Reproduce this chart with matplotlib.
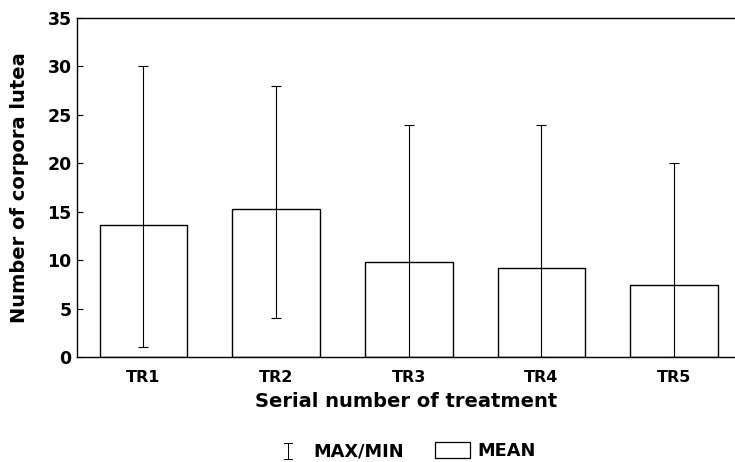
import numpy as np
import matplotlib.pyplot as plt
from matplotlib.lines import Line2D
from matplotlib.patches import Rectangle

plt.rcParams['font.family'] = ['DejaVu Sans']

treatments = ['TR1', 'TR2', 'TR3', 'TR4', 'TR5']
mean_vals = [13.6, 15.3, 9.8, 9.2, 7.4]
max_vals = [30, 28, 24, 24, 20]
min_vals = [1, 4, 0, 0, 0]

x = np.arange(len(treatments))
mean_arr = np.array(mean_vals)
err_lo = mean_arr - np.array(min_vals)
err_hi = np.array(max_vals) - mean_arr

W, H = 735, 462
fig = plt.figure(figsize=(W / 100, H / 100), dpi=100)
ax = fig.add_axes([0.105, 0.227, 0.895, 0.734])

ax.bar(x, mean_vals, width=0.66, color='white', edgecolor='black', linewidth=1.0, zorder=2)
ax.errorbar(x, mean_vals, yerr=[err_lo, err_hi], fmt='none', ecolor='black',
            elinewidth=0.8, capsize=3.6, capthick=0.8, zorder=3)

ax.set_xlim(-0.5, 4.46)
ax.set_ylim(0, 35)
ax.set_yticks(range(0, 36, 5))
ax.set_xticks(x)
ax.set_xticklabels(treatments)
ax.spines['right'].set_visible(False)
for s in ['left', 'top', 'bottom']:
    ax.spines[s].set_linewidth(1.0)
ax.tick_params(axis='y', direction='in', length=4, width=0.8, labelsize=12.5, pad=4)
ax.tick_params(axis='x', length=0, labelsize=11.5, pad=9)
for lab in ax.get_xticklabels() + ax.get_yticklabels():
    lab.set_fontweight('bold')

ax.set_xlabel('Serial number of treatment', fontsize=14, fontweight='bold', labelpad=5)
ax.set_ylabel('Number of corpora lutea', fontsize=14, fontweight='bold', labelpad=13)

# legend drawn in figure coordinates
def fx(px):
    return px / W

def fy(py):
    return 1 - py / H

cx = fx(288)
fig.add_artist(Line2D([cx, cx], [fy(443), fy(459)], color='black', lw=0.7))
for yy in (443, 459):
    fig.add_artist(Line2D([fx(284), fx(292)], [fy(yy), fy(yy)], color='black', lw=0.7))
fig.text(fx(313), fy(451), 'MAX/MIN', fontsize=12.8, fontweight='bold', va='center')
fig.add_artist(Rectangle((fx(435), fy(458)), fx(35), 16 / H, facecolor='white',
                         edgecolor='black', lw=0.9))
fig.text(fx(477), fy(451), 'MEAN', fontsize=12.8, fontweight='bold', va='center')

fig.savefig('out.png', dpi=100)
